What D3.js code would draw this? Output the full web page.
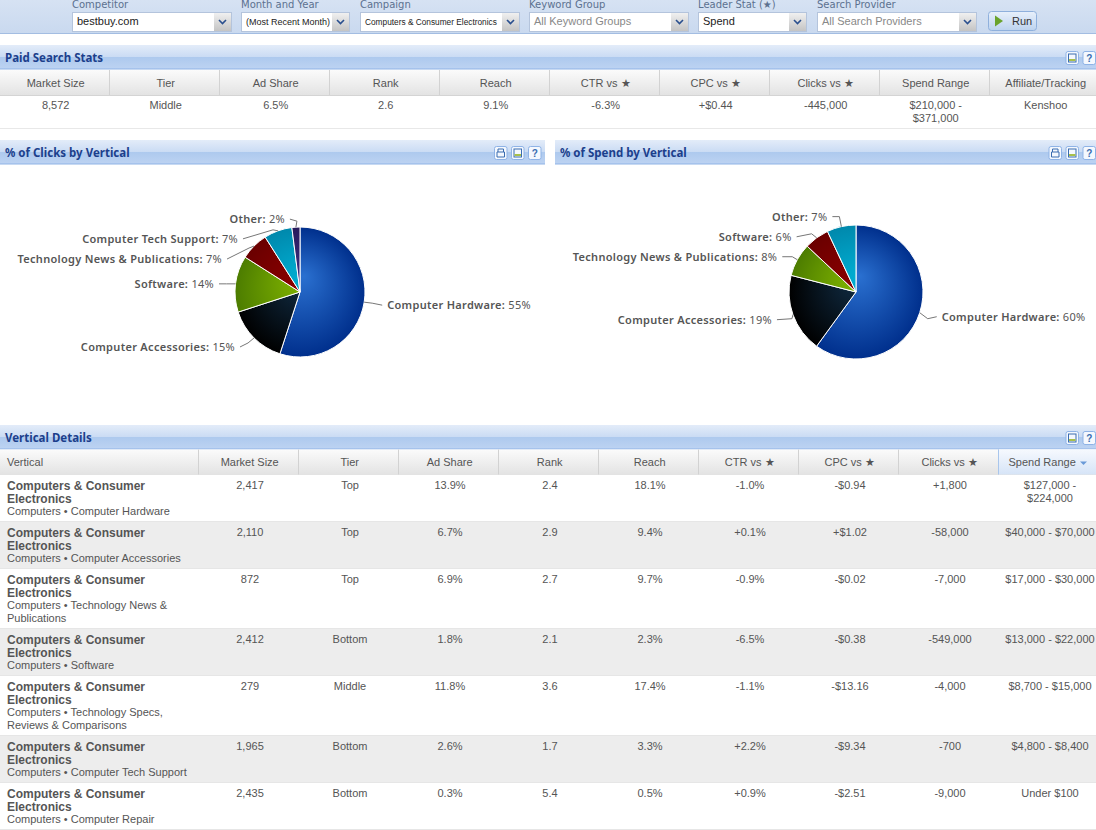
<!DOCTYPE html>
<html>
<head>
<meta charset="utf-8">
<script src="https://cdn.jsdelivr.net/npm/d3@7"></script>
<style>
html, body { margin: 0; padding: 0; background: #fff; overflow: hidden; }
svg { display: block; }
text { font-family: "Liberation Sans", Arial, sans-serif; font-size: 11px; fill: #555; }
.title { font-family: "Noto Sans", sans-serif; font-size: 11.5px; font-weight: bold; fill: #1c3f8c; }
.filter { font-family: "DejaVu Sans", sans-serif; font-size: 10px; fill: #5c7190; }
.pieLabel { font-family: "Noto Sans", sans-serif; font-size: 11px; fill: #555; letter-spacing: 0.3px; }
.pieLabel .nm { font-weight: 600; }
</style>
</head>
<body>
<div id="chart"></div>
<script>
// data
var filterNames = ["Competitor", "Month and Year", "Campaign", "Keyword Group", "Leader Stat (★)", "Search Provider"];
var filterValues = ["bestbuy.com", "(Most Recent Month)", "Computers & Consumer Electronics", "All Keyword Groups", "Spend", "All Search Providers"];

var statHeaders = ["Market Size", "Tier", "Ad Share", "Rank", "Reach", "CTR vs ★", "CPC vs ★", "Clicks vs ★", "Spend Range", "Affiliate/Tracking"];
var statValues = ["8,572", "Middle", "6.5%", "2.6", "9.1%", "-6.3%", "+$0.44", "-445,000", "$210,000 -|$371,000", "Kenshoo"];

var clickNames = ["Computer Hardware", "Computer Accessories", "Software", "Technology News & Publications", "Computer Tech Support", "Other"];
var clickShares = [55, 15, 14, 7, 7, 2];
var spendNames = ["Computer Hardware", "Computer Accessories", "Technology News & Publications", "Software", "Other"];
var spendShares = [60, 19, 8, 6, 7];

var detailHeaders = ["Vertical", "Market Size", "Tier", "Ad Share", "Rank", "Reach", "CTR vs ★", "CPC vs ★", "Clicks vs ★", "Spend Range"];
var verticalSubs = ["Computers • Computer Hardware", "Computers • Computer Accessories", "Computers • Technology News &|Publications", "Computers • Software", "Computers • Technology Specs,|Reviews & Comparisons", "Computers • Computer Tech Support", "Computers • Computer Repair"];
var marketSizes = ["2,417", "2,110", "872", "2,412", "279", "1,965", "2,435"];
var tiers = ["Top", "Top", "Top", "Bottom", "Middle", "Bottom", "Bottom"];
var adShares = ["13.9%", "6.7%", "6.9%", "1.8%", "11.8%", "2.6%", "0.3%"];
var ranks = ["2.4", "2.9", "2.7", "2.1", "3.6", "1.7", "5.4"];
var reaches = ["18.1%", "9.4%", "9.7%", "2.3%", "17.4%", "3.3%", "0.5%"];
var ctrVs = ["-1.0%", "+0.1%", "-0.9%", "-6.5%", "-1.1%", "+2.2%", "+0.9%"];
var cpcVs = ["-$0.94", "+$1.02", "-$0.02", "-$0.38", "-$13.16", "-$9.34", "-$2.51"];
var clicksVs = ["+1,800", "-58,000", "-7,000", "-549,000", "-4,000", "-700", "-9,000"];
var spendRanges = ["$127,000 -|$224,000", "$40,000 - $70,000", "$17,000 - $30,000", "$13,000 - $22,000", "$8,700 - $15,000", "$4,800 - $8,400", "Under $100"];

// slice gradients [inner, outer], in slice order
var blue = ["#2a70d0", "#002f8c"], navy = ["#12304a", "#000000"], green = ["#84b800", "#4c7c00"],
    red = ["#8c0000", "#6a0000"], teal = ["#00aed2", "#0088ac"], purple = ["#3c2c80", "#281a5c"];
var clickColors = [blue, navy, green, red, teal, purple];
var spendColors = [blue, navy, green, red, teal];

// label layout: text anchor and leader elbow as offsets from the slice's rim point
var clickLayout = [
  { lx: 23, ly: 3, ex: 8, ey: 1 },
  { lx: -19, ly: 9, ex: -6, ey: 5 },
  { lx: -21.5, ly: 0, ex: -9, ey: 0 },
  { lx: -32, ly: 13, ex: -5, ey: 2 },
  { lx: -40, ly: 8, ex: -5, ey: -1 },
  { lx: -11, ly: -8, ex: 1, ey: -6 }
];
var spendLayout = [
  { lx: 22, ly: 4, ex: 8, ey: 6 },
  { lx: -21, ly: 5, ex: -1, ey: 4 },
  { lx: -20, ly: -3, ex: -5, ey: -3 },
  { lx: -25, ly: -1, ex: -5, ey: -4 },
  { lx: -14, ly: -10, ex: -2, ey: -10 }
];

var W = 1096, H = 830;
var svg = d3.select("#chart").append("svg").attr("width", W).attr("height", H);
var defs = svg.append("defs");

function linear(id, stops) {
  var g = defs.append("linearGradient").attr("id", id).attr("x1", 0).attr("y1", 0).attr("x2", 0).attr("y2", 1);
  stops.forEach(function(s) { g.append("stop").attr("offset", s[0]).attr("stop-color", s[1]); });
}
linear("barGrad", [[0, "#e3ecf9"], [0.48, "#cbdcf4"], [0.5, "#adc9ee"], [1, "#bdd3f2"]]);
linear("headGrad", [[0, "#fbfbfb"], [1, "#e3e3e3"]]);
linear("sortGrad", [[0, "#f6f9fe"], [1, "#d6e4f7"]]);
linear("filterGrad", [[0, "#d6e2f3"], [1, "#c9d9ef"]]);
linear("btnGrad", [[0, "#e8f0fb"], [1, "#bcd2ee"]]);
linear("arrowGrad", [[0, "#f0f0f0"], [1, "#c4c4c4"]]);

// filter bar
svg.append("rect").attr("width", W).attr("height", 33.5).attr("fill", "url(#filterGrad)");
svg.append("line").attr("x1", 0).attr("x2", W).attr("y1", 33.5).attr("y2", 33.5).attr("stroke", "#a3bde2");

var filterX = d3.scaleOrdinal().domain(filterNames).range([72, 241, 360, 529, 698, 817]);
var filterW = d3.scaleOrdinal().domain(filterNames).range([160, 109, 160, 160, 109, 160]);
var filterFont = ["11px", "9px", "8.3px", "11px", "11px", "11px"];
var filters = svg.selectAll("g.flt").data(filterNames).enter().append("g").attr("class", "flt")
  .attr("transform", function(d) { return "translate(" + filterX(d) + ",0)"; });
filters.append("text").attr("class", "filter").attr("x", 0).attr("y", 8).text(function(d) { return d; });
filters.append("rect").attr("x", 0.5).attr("y", 12.5).attr("height", 19).attr("width", function(d) { return filterW(d) - 1; })
  .attr("fill", "#fff").attr("stroke", "#b4c4dc");
filters.append("rect").attr("y", 13).attr("height", 18).attr("width", 17).attr("x", function(d) { return filterW(d) - 18; })
  .attr("fill", "url(#arrowGrad)");
filters.append("path").attr("fill", "none").attr("stroke", "#2a4f8e").attr("stroke-width", 1.6)
  .attr("d", function(d) { var x = filterW(d) - 9.5; return "M" + (x - 3.5) + ",20L" + x + ",23.5L" + (x + 3.5) + ",20"; });
filters.append("text").attr("x", 5).attr("y", 25)
  .style("font-size", function(d, i) { return filterFont[i]; })
  .style("fill", function(d, i) { return i == 3 || i == 5 ? "#888" : "#222"; })
  .text(function(d, i) { return filterValues[i]; });

svg.append("rect").attr("x", 988.5).attr("y", 11.5).attr("width", 48).attr("height", 19).attr("rx", 3)
  .attr("fill", "url(#btnGrad)").attr("stroke", "#8fb0dc");
svg.append("path").attr("d", "M995,15.5L1003,21L995,26.5Z").attr("fill", "#6aa32c");
svg.append("text").attr("x", 1012).attr("y", 25).style("fill", "#333").text("Run");

// section title bars, icons counted from the right edge
function titleBar(x, y, w, title, icons, margin) {
  var g = svg.append("g").attr("transform", "translate(" + x + "," + y + ")");
  g.append("rect").attr("width", w).attr("height", 24).attr("fill", "url(#barGrad)");
  g.append("line").attr("x1", 0).attr("x2", w).attr("y1", 24).attr("y2", 24).attr("stroke", "#8fb3e6");
  g.append("text").attr("class", "title").attr("x", 5).attr("y", 16.5).text(title);
  d3.range(icons).forEach(function(kind) { // 0 help, 1 save, 2 print
    var ix = w - margin - 12.5 - kind * 17;
    var ic = g.append("g").attr("transform", "translate(" + ix + ",6.5)");
    ic.append("rect").attr("width", 12.5).attr("height", 13).attr("rx", 2).attr("fill", "#f4f8fe").attr("stroke", "#8fb3e6");
    if (kind == 0) {
      ic.append("text").attr("x", 6.2).attr("y", 10.5).attr("text-anchor", "middle").style("font-size", "10px").style("font-weight", "bold").style("fill", "#3a6cb0").text("?");
    } else if (kind == 1) {
      ic.append("rect").attr("x", 2.5).attr("y", 2.5).attr("width", 7.5).attr("height", 8).attr("fill", "none").attr("stroke", "#3a6cb0");
      ic.append("rect").attr("x", 3).attr("y", 7.5).attr("width", 6.5).attr("height", 2).attr("fill", "#a8c04a");
    } else {
      ic.append("path").attr("d", "M3.5,5.5V2.5H9V5.5M2.5,5.5H10V10.5H2.5Z").attr("fill", "none").attr("stroke", "#3a6cb0");
    }
  });
}
titleBar(0, 45, W, "Paid Search Stats", 2, 0.5);
titleBar(0, 140, 545, "% of Clicks by Vertical", 3, 4);
titleBar(555, 140, 541, "% of Spend by Vertical", 3, 0.5);
titleBar(0, 425, W, "Vertical Details", 2, 0.5);

// table header row
function headerRow(names, x, y, h) {
  var g = svg.append("g");
  g.selectAll("rect").data(names).enter().append("rect")
    .attr("x", function(d) { return x(d); }).attr("y", y)
    .attr("width", function(d) { return x.bandwidth ? x.bandwidth() : x.w(d); }).attr("height", h)
    .attr("fill", "url(#headGrad)");
  g.append("line").attr("x1", 0).attr("x2", W).attr("y1", y + h + 0.5).attr("y2", y + h + 0.5).attr("stroke", "#d4d4d4");
  g.selectAll("line.sep").data(names.slice(1)).enter().append("line").attr("class", "sep")
    .attr("x1", function(d) { return x(d) - 0.5; }).attr("x2", function(d) { return x(d) - 0.5; })
    .attr("y1", y).attr("y2", y + h).attr("stroke", "#d2d2d2");
  return g;
}

// paid search stats table
var statX = d3.scaleBand().domain(statHeaders).range([0, 1100]);
var statMid = function(d) { return statX(d) + statX.bandwidth() / 2 + 0.7; };
headerRow(statHeaders, statX, 70, 25);
svg.append("g").selectAll("text").data(statHeaders).enter().append("text")
  .attr("x", statMid).attr("y", 87)
  .attr("text-anchor", "middle").text(function(d) { return d; });
statValues.forEach(function(v, i) {
  v.split("|").forEach(function(line, k) {
    svg.append("text").attr("x", statMid(statHeaders[i])).attr("y", 109 + k * 13)
      .attr("text-anchor", "middle").text(line);
  });
});
svg.append("line").attr("x1", 0).attr("x2", W).attr("y1", 128.5).attr("y2", 128.5).attr("stroke", "#e8e8e8");

// pies
function drawPie(id, names, shares, colors, layout, cx, cy, r) {
  var g = svg.append("g").attr("transform", "translate(" + cx + "," + cy + ")");
  var pie = d3.pie().sort(null).value(function(d) { return d; })(shares);
  var arc = d3.arc().innerRadius(0).outerRadius(r);

  colors.forEach(function(c, i) {
    var rg = defs.append("radialGradient").attr("id", id + i).attr("gradientUnits", "userSpaceOnUse")
      .attr("cx", 0).attr("cy", 0).attr("r", r).attr("fx", 4).attr("fy", -16);
    rg.append("stop").attr("offset", 0).attr("stop-color", c[0]);
    rg.append("stop").attr("offset", 1).attr("stop-color", c[1]);
  });

  g.selectAll("path.slice").data(pie).enter().append("path").attr("class", "slice")
    .attr("d", arc)
    .attr("fill", function(d, i) { return "url(#" + id + i + ")"; })
    .attr("stroke", "#fff").attr("stroke-width", 1);

  pie.forEach(function(d, i) {
    var mid = (d.startAngle + d.endAngle) / 2;
    var rimX = Math.sin(mid) * r, rimY = -Math.cos(mid) * r;
    var l = layout[i];
    var lx = rimX + l.lx, ly = rimY + l.ly;
    var side = l.lx > 0 ? 1 : -1;
    g.append("path").attr("fill", "none").attr("stroke", "#777").attr("stroke-width", 1)
      .attr("d", d3.line()([[rimX, rimY], [rimX + l.ex, rimY + l.ey], [lx - side * 5, ly]]));
    var t = g.append("text").attr("class", "pieLabel").attr("x", lx).attr("y", ly + 4)
      .attr("text-anchor", side > 0 ? "start" : "end");
    t.append("tspan").attr("class", "nm").text(names[i] + ":");
    t.append("tspan").text(" " + shares[i] + "%");
  });
}
drawPie("clk", clickNames, clickShares, clickColors, clickLayout, 300, 292, 65);
drawPie("spd", spendNames, spendShares, spendColors, spendLayout, 856, 292, 67);

// vertical details table
var detailEdges = [0, 199, 299, 399, 499, 599, 699, 799, 899, 999, 1099];
var detailX = function(d) { return detailEdges[detailHeaders.indexOf(d)]; };
detailX.w = function(d) { var i = detailHeaders.indexOf(d); return detailEdges[i + 1] - detailEdges[i]; };
headerRow(detailHeaders, detailX, 449.5, 25);
svg.append("rect").attr("x", 999).attr("y", 449.5).attr("width", 97).attr("height", 25).attr("fill", "url(#sortGrad)");
svg.append("line").attr("x1", 998.5).attr("x2", 998.5).attr("y1", 449.5).attr("y2", 474.5).attr("stroke", "#a9c6ec");
detailHeaders.forEach(function(d, i) {
  var c = detailX(d) + detailX.w(d) / 2 + 0.7;
  if (i == 0) svg.append("text").attr("x", 7).attr("y", 466).text(d);
  else if (i == 9) svg.append("text").attr("x", 1008.5).attr("y", 466).text(d);
  else svg.append("text").attr("x", c).attr("y", 466).attr("text-anchor", "middle").text(d);
});
svg.append("path").attr("d", "M1080,461.5H1087L1083.5,465Z").attr("fill", "#6a9ad8");

var lineH = 13;
var rowColumns = [marketSizes, tiers, adShares, ranks, reaches, ctrVs, cpcVs, clicksVs, spendRanges];
var rowY = 475;
verticalSubs.forEach(function(sub, r) {
  var subLines = sub.split("|");
  var h = (2 + subLines.length) * lineH + 8;
  var rg = svg.append("g").attr("transform", "translate(0," + rowY + ")");
  rg.append("rect").attr("width", W).attr("height", h - 1).attr("fill", r % 2 ? "#ededed" : "#fff");
  rg.append("line").attr("x1", 0).attr("x2", W).attr("y1", h - 0.5).attr("y2", h - 0.5).attr("stroke", "#e6e6e6");
  ["Computers & Consumer", "Electronics"].forEach(function(b, k) {
    rg.append("text").attr("x", 7).attr("y", 15 + k * lineH).style("font-weight", "bold").style("font-size", "12px").text(b);
  });
  subLines.forEach(function(s, k) {
    rg.append("text").attr("x", 7).attr("y", 40 + k * lineH).text(s);
  });
  rowColumns.forEach(function(col, c) {
    var head = detailHeaders[c + 1];
    col[r].split("|").forEach(function(line, k) {
      rg.append("text").attr("x", detailX(head) + 51).attr("y", 14 + k * lineH)
        .attr("text-anchor", "middle").text(line);
    });
  });
  rowY += h;
});
</script>
</body>
</html>
